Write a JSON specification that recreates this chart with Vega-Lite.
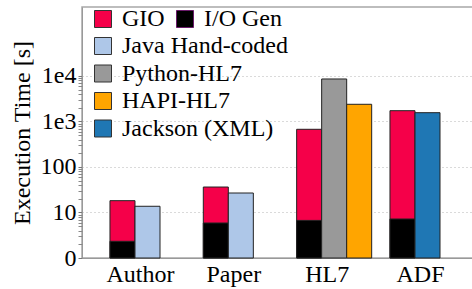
{
  "$schema": "https://vega.github.io/schema/vega-lite/v6.json",
  "width": 392,
  "height": 251,
  "autosize": {"type": "none"},
  "padding": {"left": 82, "top": 7, "right": 0, "bottom": 31},
  "config": {
    "font": "Liberation Serif, serif",
    "view": {"stroke": "#a8a8a8", "strokeWidth": 1.5},
    "axis": {"labelFont": "Liberation Serif, serif", "titleFont": "Liberation Serif, serif", "labelColor": "#000", "titleColor": "#000", "labelFontSize": 24, "titleFontSize": 24, "titleFontWeight": "normal", "domainColor": "#999", "tickColor": "#777"},
    "legend": {"labelFont": "Liberation Serif, serif"}
  },
  "data": {"values": [
    {"group": "Author", "series": "GIO", "slot": "a", "time": 18.2},
    {"group": "Paper", "series": "GIO", "slot": "a", "time": 36.3},
    {"group": "HL7", "series": "GIO", "slot": "a", "time": 674},
    {"group": "ADF", "series": "GIO", "slot": "a", "time": 1727},
    {"group": "Author", "series": "I/O Gen", "slot": "a", "time": 2.33},
    {"group": "Paper", "series": "I/O Gen", "slot": "a", "time": 5.88},
    {"group": "HL7", "series": "I/O Gen", "slot": "a", "time": 6.7},
    {"group": "ADF", "series": "I/O Gen", "slot": "a", "time": 7.2},
    {"group": "Author", "series": "Java Hand-coded", "slot": "b", "time": 13.7},
    {"group": "Paper", "series": "Java Hand-coded", "slot": "b", "time": 26.8},
    {"group": "HL7", "series": "Python-HL7", "slot": "b", "time": 8590},
    {"group": "HL7", "series": "HAPI-HL7", "slot": "c", "time": 2388},
    {"group": "ADF", "series": "Jackson (XML)", "slot": "b", "time": 1561}
  ]},
  "resolve": {"scale": {"y": "independent"}, "axis": {"y": "independent"}},
  "layer": [
    {
      "transform": [{"filter": "datum.series == 'GIO' || datum.series == 'I/O Gen'"}],
      "mark": {"type": "bar", "stroke": "#222", "strokeWidth": 1},
      "encoding": {
        "x": {"field": "group", "type": "nominal", "sort": ["Author", "Paper", "HL7", "ADF"],
              "scale": {"paddingInner": 0.196, "paddingOuter": 0.198, "align": 0.757},
              "axis": {"title": null, "ticks": false, "labelAngle": 0, "labelPadding": 4, "labelOffset": -7, "domainColor": "#999"}},
        "xOffset": {"field": "slot", "type": "nominal", "scale": {"domain": ["a", "b", "c"], "paddingInner": 0, "paddingOuter": 0}},
        "y": {"field": "time", "type": "quantitative", "stack": null,
              "scale": {"type": "log", "domain": [1, 328000], "nice": false},
              "axis": {"title": "Execution Time [s]", "values": [1, 10, 100, 1000, 10000],
                       "labelExpr": "datum.value == 1 ? '0' : datum.value == 10 ? '10' : datum.value == 100 ? '100' : datum.value == 1000 ? '1e3' : '1e4'",
                       "grid": true, "gridDash": [1, 3], "gridColor": "#b5b5b5", "ticks": true, "tickSize": 4, "tickColor": "#777", "tickWidth": 1, "labelPadding": 2, "titlePadding": 6, "orient": "left"}},
        "color": {"field": "series", "type": "nominal",
                  "scale": {"domain": ["GIO", "I/O Gen"], "range": ["#f50049", "#000000"]},
                  "legend": {"title": null, "orient": "none", "legendX": 9, "legendY": 0, "columns": 2, "columnPadding": 8,
                             "symbolType": "square", "symbolSize": 289, "symbolStrokeColor": "#333", "symbolStrokeWidth": 1, "symbolOpacity": 1,
                             "labelFont": "Liberation Serif, serif", "labelFontSize": 24, "labelOffset": 7, "labelLimit": 300, "padding": 0, "labelColor": "#000",
                             "encode": {"symbols": {"update": {"stroke": {"signal": "datum.value == 'I/O Gen' ? '#6a1b6a' : '#333'"}}}}}}
      }
    },
    {
      "transform": [{"filter": "datum.series != 'GIO' && datum.series != 'I/O Gen'"}],
      "mark": {"type": "bar", "stroke": "#222", "strokeWidth": 1},
      "encoding": {
        "x": {"field": "group", "type": "nominal", "sort": ["Author", "Paper", "HL7", "ADF"]},
        "xOffset": {"field": "slot", "type": "nominal"},
        "y": {"field": "time", "type": "quantitative", "stack": null,
              "scale": {"type": "log", "domain": [1, 328000], "nice": false},
              "axis": {"title": null, "labels": false, "grid": false, "domain": false, "ticks": true, "tickSize": 4, "tickWidth": 1, "tickColor": "#888", "orient": "left",
                       "values": [2,3,4,5,6,7,8,9,20,30,40,50,60,70,80,90,200,300,400,500,600,700,800,900,2000,3000,4000,5000,6000,7000,8000,9000]}},
        "fill": {"field": "series", "type": "nominal",
                 "scale": {"domain": ["Java Hand-coded", "Python-HL7", "HAPI-HL7", "Jackson (XML)"], "range": ["#aec7e8", "#999999", "#ffa500", "#1f77b4"]},
                 "legend": {"title": null, "orient": "none", "legendX": 9, "legendY": 27, "rowPadding": 3.5,
                            "symbolType": "square", "symbolSize": 289, "symbolStrokeColor": "#333", "symbolStrokeWidth": 1, "symbolOpacity": 1,
                            "labelFont": "Liberation Serif, serif", "labelFontSize": 24, "labelOffset": 7, "labelLimit": 300, "padding": 0, "labelColor": "#000"}}
      }
    }
  ]
}
